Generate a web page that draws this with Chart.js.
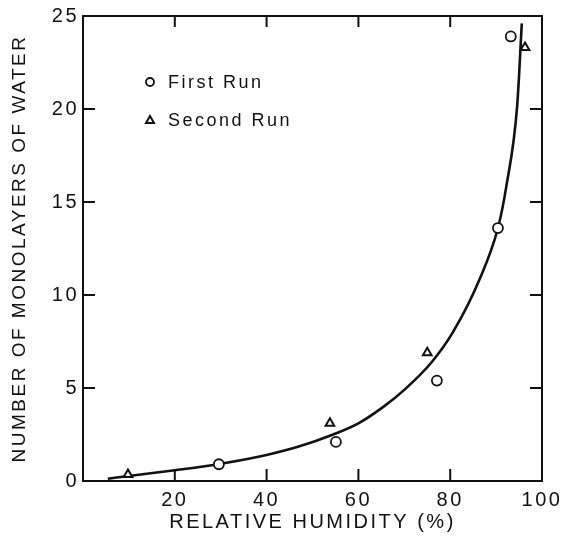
<!DOCTYPE html>
<html>
<head>
<meta charset="utf-8">
<script src="https://cdn.jsdelivr.net/npm/chart.js@4.4.1/dist/chart.umd.min.js"></script>
<style>
html, body { margin: 0; padding: 0; background: #fff; }
</style>
</head>
<body>
<canvas id="water-chart" width="566" height="540"></canvas>
<script>
// values
const first_humidity = [29.6, 55.1, 77.1, 90.4, 93.2];
const first_layers = [0.9, 2.1, 5.4, 13.6, 23.9];
const second_humidity = [9.8, 53.8, 75.0, 96.3];
const second_layers = [0.35, 3.1, 6.9, 23.3];
const curve_humidity = [5.4, 10, 20, 30, 40, 47, 54.5, 60, 65.5, 70, 76, 80.6, 86.5, 90.4, 92.2, 94.6, 95.6];
const curve_layers = [0.12, 0.27, 0.58, 0.93, 1.4, 1.85, 2.5, 3.1, 4.0, 4.9, 6.4, 8.0, 10.9, 13.6, 15.8, 20.2, 24.6];
const x_ticks = [20, 40, 60, 80, 100];
const y_ticks = [0, 5, 10, 15, 20, 25];
const series_labels = ["First Run", "Second Run"];

const ink = '#111';
const font_family = "'Liberation Sans', Arial, sans-serif";

const to_points = (xs, ys) => xs.map((x, i) => ({ x: x, y: ys[i] }));

const frame_plugin = {
    id: 'frame',
    beforeDraw(chart) {
        chart.ctx.letterSpacing = '2.5px';
    },
    afterDatasetsDraw(chart) {
        const ctx = chart.ctx;
        const area = chart.chartArea;
        const x_scale = chart.scales.x;
        const y_scale = chart.scales.y;
        ctx.save();
        ctx.strokeStyle = ink;
        ctx.lineWidth = 2;
        ctx.strokeRect(area.left, area.top, area.right - area.left, area.bottom - area.top);

        // inward tick marks on all four sides
        ctx.beginPath();
        x_ticks.slice(0, -1).forEach(v => {
            let px = x_scale.getPixelForValue(v);
            ctx.moveTo(px, area.bottom);
            ctx.lineTo(px, area.bottom - 12);
            ctx.moveTo(px, area.top);
            ctx.lineTo(px, area.top + 11);
        });
        y_ticks.slice(1, -1).forEach(v => {
            let py = y_scale.getPixelForValue(v);
            ctx.moveTo(area.left, py);
            ctx.lineTo(area.left + 12, py);
            ctx.moveTo(area.right, py);
            ctx.lineTo(area.right - 12, py);
        });
        ctx.stroke();

        // legend inside the plot
        ctx.font = "18px " + font_family;
        ctx.fillStyle = ink;
        ctx.textBaseline = 'middle';
        ctx.textAlign = 'left';
        let lx = area.left + 67;
        let ly = area.top + 66;
        ctx.lineWidth = 1.8;
        ctx.beginPath();
        ctx.arc(lx, ly, 4, 0, Math.PI * 2);
        ctx.stroke();
        ctx.fillText(series_labels[0], lx + 18, ly + 1);

        ly += 38;
        ctx.beginPath();
        ctx.moveTo(lx, ly - 4);
        ctx.lineTo(lx + 4, ly + 3);
        ctx.lineTo(lx - 4, ly + 3);
        ctx.closePath();
        ctx.lineWidth = 2;
        ctx.stroke();
        ctx.fillText(series_labels[1], lx + 18, ly + 1);
        ctx.restore();
    }
};

new Chart(document.getElementById('water-chart'), {
    type: 'scatter',
    data: {
        datasets: [
            {
                label: series_labels[0],
                data: to_points(first_humidity, first_layers),
                pointStyle: 'circle',
                pointRadius: 5,
                borderWidth: 1.8,
                borderColor: ink,
                backgroundColor: '#fff'
            },
            {
                label: series_labels[1],
                data: to_points(second_humidity, second_layers),
                pointStyle: 'triangle',
                pointRadius: 5,
                borderWidth: 2,
                borderColor: ink,
                backgroundColor: '#fff'
            },
            {
                type: 'line',
                label: 'fit',
                data: to_points(curve_humidity, curve_layers),
                borderColor: ink,
                borderWidth: 2.6,
                pointRadius: 0,
                cubicInterpolationMode: 'monotone',
                fill: false
            }
        ]
    },
    options: {
        responsive: false,
        animation: false,
        devicePixelRatio: 1,
        layout: {
            padding: { top: 15, right: 24, left: 0, bottom: 0 }
        },
        plugins: {
            legend: { display: false },
            tooltip: { enabled: false }
        },
        scales: {
            x: {
                type: 'linear',
                min: 0,
                max: 100,
                afterBuildTicks: scale => {
                    scale.ticks = x_ticks.map(v => ({ value: v }));
                },
                afterFit: scale => {
                    scale.height = 59;
                },
                grid: { display: false, drawTicks: false },
                border: { display: false },
                ticks: {
                    color: ink,
                    padding: 7,
                    maxRotation: 0,
                    autoSkip: false,
                    font: { family: font_family, size: 20 }
                },
                title: {
                    display: true,
                    text: 'RELATIVE HUMIDITY (%)',
                    color: ink,
                    font: { family: font_family, size: 20 },
                    padding: { top: 0, bottom: 6 }
                }
            },
            y: {
                type: 'linear',
                min: 0,
                max: 25,
                afterBuildTicks: scale => {
                    scale.ticks = y_ticks.map(v => ({ value: v }));
                },
                afterFit: scale => {
                    scale.width = 83;
                },
                grid: { display: false, drawTicks: false },
                border: { display: false },
                ticks: {
                    color: ink,
                    padding: 4,
                    font: { family: font_family, size: 20 }
                },
                title: {
                    display: true,
                    text: 'NUMBER OF MONOLAYERS OF WATER',
                    color: ink,
                    font: { family: font_family, size: 19 },
                    padding: { top: 8, bottom: 0 }
                }
            }
        }
    },
    plugins: [frame_plugin]
});
</script>
</body>
</html>
